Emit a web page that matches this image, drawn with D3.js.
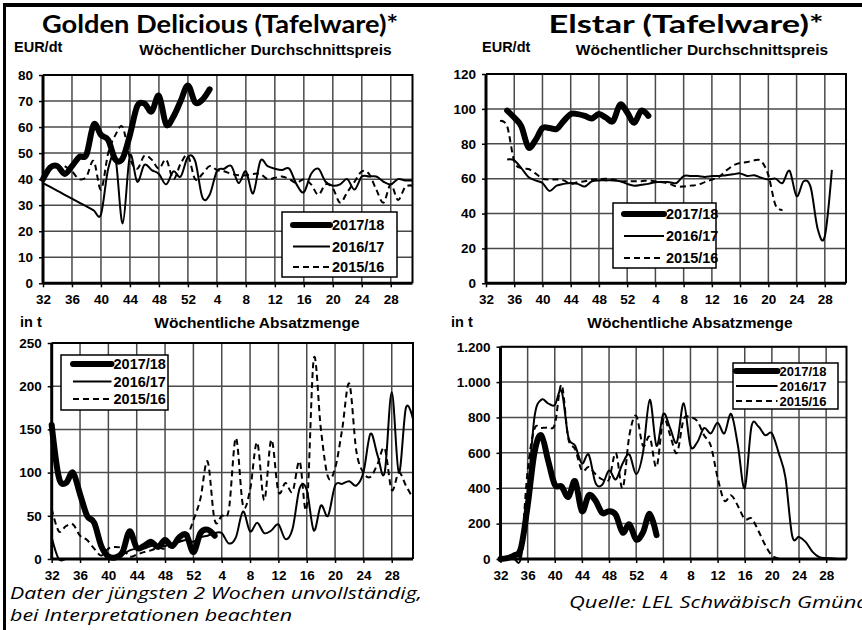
<!DOCTYPE html>
<html>
<head>
<meta charset="utf-8">
<script src="https://cdn.jsdelivr.net/npm/d3@7"></script>
<style>
  body { margin: 0; background: #fff; }
  svg { display: block; }
  text { font-family: "Liberation Sans", Arial, sans-serif; font-weight: bold; fill: #000; }
  .title { font-family: Lato, "Open Sans", sans-serif; font-weight: bold; }
  .note { font-family: "Open Sans", Lato, sans-serif; font-weight: normal; font-style: italic; }
</style>
</head>
<body>
<svg id="chart" width="862" height="630"></svg>
<script>
// calendar weeks, season runs from week 32 to week 31 of the next year
const weeks = [32, 33, 34, 35, 36, 37, 38, 39, 40, 41, 42, 43, 44, 45, 46, 47, 48, 49, 50, 51, 52,
  1, 2, 3, 4, 5, 6, 7, 8, 9, 10, 11, 12, 13, 14, 15, 16, 17, 18, 19, 20, 21, 22, 23, 24, 25, 26, 27, 28, 29, 30, 31];
const seasons = ['2017/18', '2016/17', '2015/16'];

// Golden Delicious, price EUR/dt
const goldenPrice1718 = [40, 44.5, 45, 42, 45, 48.5, 49.5, 61, 57, 55, 47.5, 48, 57, 68, 69, 66, 72, 61, 64, 70, 76, 69.5, 70.5, 74.5];
const goldenPrice1617 = [38.5, 37, 35.5, 34, 32.5, 31, 29.5, 28, 26.5, 44, 48, 23, 49, 39, 45.5, 43.5, 42, 38, 43, 41,
  48.5, 47, 33, 34, 43, 44, 45, 38.5, 43, 34.5, 47, 45, 44, 43.5, 44, 38, 35, 42, 44, 39,
  37.5, 38, 40, 36, 41, 41, 41, 39, 38, 40, 39.5, 39.5];
const goldenPrice1516 = [null, null, null, 45, 43, 40, 41, 47, 36, 50, 57, 60, 48, 44, 49, 47.5, 44, 47.5, 40, 46,
  49, 40, 42, 45, 43.5, 43, 42, 41.5, 41.5, 42, 42, 40, 40.5, 41, 40, 38.5, 40, 38, 34, 38,
  36.5, 31, 35, 39, 43, 42, 36, 31, 38, 32, 37, 37.5];

// Elstar, price EUR/dt
const elstarPrice1718 = [null, null, null, 99, 95, 90, 78, 82, 89, 89, 88.5, 93, 97, 97, 96, 94.5, 97, 95, 93, 102.5,
  98, 92, 99, 96];
const elstarPrice1617 = [null, null, null, 71, 70.5, 66, 61, 59, 57.5, 53, 56, 57, 57.5, 57, 55.5, 58.5, 59, 59, 59, 58.5,
  57, 56, 56.5, 57, 58, 58, 58, 57.5, 61.5, 61.5, 61.5, 61, 61.5, 61.5, 62, 62.5, 63, 61.5, 62, 60.5,
  59.5, 60, 57.5, 64.5, 50, 58.5, 55, 31, 27, 65];
const elstarPrice1516 = [null, null, 93, 90, 70, 66, 65.5, 63, 60, 59.5, 59.5, 59, 57, 58, 58.5, 59.5, 59.5, 60, 59.5, 58.5,
  58.5, 58.5, 58.5, 59, 58.5, 58, 57, 55.5, 55.5, 56, 56.5, 58, 59.5, 61, 64.5, 67.5, 69, 69.5, 70.5, 70,
  62, 45, 42];

// Golden Delicious, sales in t
const goldenSales1718 = [155, 95, 88, 100, 75, 50, 42, 15, 3, 2, 8, 32, 13, 15, 20, 14, 22, 15, 25, 28, 8, 30, 34, 27];
const goldenSales1617 = [25, 0, 0, 0, 0, 0, 0, 0, 0, 2, 5, 10, 12, 12, 15, 15, 15, 18, 20, 22,
  20, 25, 27, 30, 30, 18, 25, 55, 32, 42, 30, 33, 40, 23, 35, 82, 80, 33, 62, 50,
  85, 87, 90, 85, 100, 145, 120, 100, 193, 100, 175, 162];
const goldenSales1516 = [58, 32, 38, 40, 27, 22, 12, 4, 12, 14, 12, 3, 5, 8, 10, 13, 12, 16, 20, 24,
  45, 70, 113, 45, 50, 57, 140, 62, 80, 135, 68, 138, 78, 88, 78, 113, 60, 232, 150, 95,
  105, 150, 203, 125, 100, 95, 110, 128, 80, 100, 85, 70];

// Elstar, sales in t
const elstarSales1718 = [0, 5, 20, 60, 300, 600, 700, 560, 420, 410, 350, 440, 270, 360, 330, 260, 270, 250, 150, 195,
  110, 150, 255, 135];
const elstarSales1617 = [0, 0, 0, 5, 350, 800, 900, 880, 870, 950, 690, 640, 540, 590, 430, 420, 500, 450, 540, 590,
  480, 600, 900, 640, 820, 740, 660, 880, 640, 660, 740, 710, 770, 710, 820, 640, 400, 750, 750, 700,
  710, 600, 460, 130, 125, 95, 40, 10, 5, 3, 0, 0];
const elstarSales1516 = [0, 0, 5, 40, 500, 735, 740, 745, 760, 985, 680, 620, 500, 520, 480, 450, 450, 600, 400, 700,
  810, 640, 690, 520, 790, 700, 600, 790, 800, 780, 700, 640, 460, 330, 360, 300, 225, 230, 160, 80,
  20, 3, 0, 0, 0, 0, 0, 0, 0, 0, 0, 0];

const svg = d3.select('#chart');
const de = d3.formatLocale({ decimal: ',', thousands: '.', grouping: [3], currency: ['', ' €'] });

// outer frame (only top and left edges are visible in the crop)
svg.append('line').attr('x1', 3).attr('x2', 862).attr('y1', 5).attr('y2', 5)
  .attr('stroke', '#000').attr('stroke-width', 4);
svg.append('line').attr('x1', 4.5).attr('x2', 4.5).attr('y1', 3).attr('y2', 630)
  .attr('stroke', '#000').attr('stroke-width', 3);

const styles = [
  { width: 6, dash: null },
  { width: 2, dash: null },
  { width: 2, dash: '6,4' }
];

function drawPanel(p) {
  const x = d3.scaleLinear().domain([0, weeks.length - 1]).range([p.x0, p.x1]);
  const y = d3.scaleLinear().domain([0, p.yMax]).range([p.y1, p.y0]);
  const g = svg.append('g');

  // grid
  g.selectAll('line.vg').data(d3.range(4, weeks.length, 4)).enter().append('line')
    .attr('class', 'vg')
    .attr('x1', d => x(d)).attr('x2', d => x(d))
    .attr('y1', p.y0).attr('y2', p.y1)
    .attr('stroke', '#4a4a4a').attr('stroke-width', 1.5);
  g.selectAll('line.hg').data(p.yTicks.slice(1)).enter().append('line')
    .attr('class', 'hg')
    .attr('x1', p.x0).attr('x2', p.x1)
    .attr('y1', d => y(d)).attr('y2', d => y(d))
    .attr('stroke', '#4a4a4a').attr('stroke-width', 1.5);

  // top / right frame
  g.append('path')
    .attr('d', `M${p.x0},${p.y0}H${p.x1}V${p.y1}`)
    .attr('fill', 'none').attr('stroke', '#000').attr('stroke-width', 2);

  // axes
  const xAxis = g.append('g')
    .attr('transform', `translate(0,${p.y1})`)
    .call(d3.axisBottom(x).tickValues(d3.range(0, weeks.length, 4))
      .tickFormat(i => weeks[i]).tickSize(4).tickPadding(7));
  const yAxis = g.append('g')
    .attr('transform', `translate(${p.x0},0)`)
    .call(d3.axisLeft(y).tickValues(p.yTicks).tickFormat(p.fmt).tickSize(4).tickPadding(6));
  [xAxis, yAxis].forEach(a => {
    a.attr('font-family', null).attr('font-size', null);
    a.select('.domain').attr('stroke', '#000').attr('stroke-width', 3);
    a.selectAll('.tick line').attr('stroke', '#000').attr('stroke-width', 1.5);
    a.selectAll('text').attr('font-size', 13.5);
  });
  xAxis.selectAll('.domain').attr('d', `M${p.x0},0H${p.x1}`);
  yAxis.selectAll('.domain').attr('d', `M0,${p.y1}V${p.y0}`);

  // series, oldest first so that the current season is on top
  const line = d3.line()
    .defined(d => d != null)
    .x((d, i) => x(i))
    .y(d => y(d))
    .curve(d3.curveCardinal.tension(0));
  [2, 1, 0].forEach(k => {
    g.append('path')
      .datum(p.series[k])
      .attr('d', line)
      .attr('fill', 'none')
      .attr('stroke', '#000')
      .attr('stroke-width', styles[k].width)
      .attr('stroke-dasharray', styles[k].dash)
      .attr('stroke-linejoin', 'round')
      .attr('stroke-linecap', k === 0 ? 'round' : 'butt');
  });

  // legend
  const L = p.legend;
  g.append('rect')
    .attr('x', L.x).attr('y', L.y).attr('width', L.w).attr('height', L.h)
    .attr('fill', '#fff').attr('stroke', '#000').attr('stroke-width', 1.5);
  seasons.forEach((s, k) => {
    const ry = L.rows[k];
    g.append('line')
      .attr('x1', L.s0).attr('x2', L.s1).attr('y1', ry).attr('y2', ry)
      .attr('stroke', '#000').attr('stroke-width', styles[k].width)
      .attr('stroke-dasharray', styles[k].dash)
      .attr('stroke-linecap', k === 0 ? 'round' : 'butt');
    g.append('text')
      .attr('x', L.s1 + 2).attr('y', ry).attr('dy', '0.36em')
      .attr('font-size', L.fs || 14.5)
      .text(s);
  });

  // headings
  g.append('text').attr('x', p.unit[0]).attr('y', p.unit[1]).attr('font-size', 14.5).text(p.unitText);
  g.append('text').attr('x', p.head[0]).attr('y', p.head[1]).attr('font-size', 15.5)
    .attr('text-anchor', 'middle').text(p.headText);
}

const fmt0 = d3.format('d');

drawPanel({
  x0: 43, x1: 412.5, y0: 75, y1: 283.3, yMax: 80,
  yTicks: [0, 10, 20, 30, 40, 50, 60, 70, 80], fmt: fmt0,
  series: [goldenPrice1718, goldenPrice1617, goldenPrice1516],
  legend: { x: 282, y: 212, w: 115, h: 65, s0: 293, s1: 330, rows: [225, 246.5, 267] },
  unit: [14, 52], unitText: 'EUR/dt',
  head: [265.5, 55], headText: 'Wöchentlicher Durchschnittspreis'
});

drawPanel({
  x0: 486, x1: 846, y0: 74, y1: 283.3, yMax: 120,
  yTicks: [0, 20, 40, 60, 80, 100, 120], fmt: fmt0,
  series: [elstarPrice1718, elstarPrice1617, elstarPrice1516],
  legend: { x: 613, y: 203, w: 103, h: 65, s0: 624, s1: 664, rows: [214, 236, 258] },
  unit: [482, 52], unitText: 'EUR/dt',
  head: [702, 55], headText: 'Wöchentlicher Durchschnittspreis'
});

drawPanel({
  x0: 51.7, x1: 413, y0: 343, y1: 559, yMax: 250,
  yTicks: [0, 50, 100, 150, 200, 250], fmt: fmt0,
  series: [goldenSales1718, goldenSales1617, goldenSales1516],
  legend: { x: 61, y: 355, w: 107, h: 55, s0: 73, s1: 111.5, rows: [364, 381.5, 399] },
  unit: [20, 327], unitText: 'in t',
  head: [257, 328], headText: 'Wöchentliche Absatzmenge'
});

drawPanel({
  x0: 500.5, x1: 846.5, y0: 346.7, y1: 559, yMax: 1200,
  yTicks: [0, 200, 400, 600, 800, 1000, 1200], fmt: de.format(','),
  series: [elstarSales1718, elstarSales1617, elstarSales1516],
  legend: { x: 733, y: 363, w: 105, h: 46, s0: 736, s1: 777.5, rows: [371, 386, 401], fs: 13 },
  unit: [451, 327], unitText: 'in t',
  head: [690, 328], headText: 'Wöchentliche Absatzmenge'
});

// titles and notes
svg.append('text').attr('class', 'title').attr('x', 220).attr('y', 33)
  .attr('text-anchor', 'middle').attr('font-size', 25)
  .attr('textLength', 356).attr('lengthAdjust', 'spacingAndGlyphs')
  .text('Golden Delicious (Tafelware)*');
svg.append('text').attr('class', 'title').attr('x', 686).attr('y', 33)
  .attr('text-anchor', 'middle').attr('font-size', 25)
  .attr('textLength', 275).attr('lengthAdjust', 'spacingAndGlyphs')
  .text('Elstar (Tafelware)*');
svg.append('text').attr('class', 'note').attr('x', 10).attr('y', 599)
  .attr('font-size', 16.5).attr('textLength', 412).attr('lengthAdjust', 'spacingAndGlyphs')
  .text('Daten der jüngsten 2 Wochen unvollständig,');
svg.append('text').attr('class', 'note').attr('x', 10).attr('y', 621)
  .attr('font-size', 16.5).attr('textLength', 282).attr('lengthAdjust', 'spacingAndGlyphs')
  .text('bei Interpretationen beachten');
svg.append('text').attr('class', 'note').attr('x', 569).attr('y', 608)
  .attr('font-size', 16.5).attr('textLength', 300).attr('lengthAdjust', 'spacingAndGlyphs')
  .text('Quelle: LEL Schwäbisch Gmünd');
</script>
</body>
</html>
